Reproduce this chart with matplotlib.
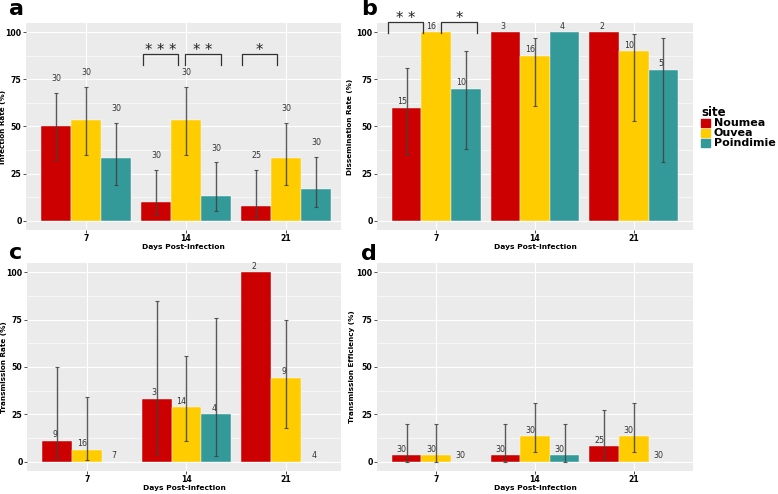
import matplotlib.pyplot as plt
import matplotlib.patches as mpatches
import numpy as np

# rate (%), 95% CI bounds, and n per site / day
days = ['7', '14', '21']
sites = ['Noumea', 'Ouvea', 'Poindimie']
colors = ['#CC0000', '#FFCC00', '#339999']
nan = np.nan

# a - infection rate
inf_rate = [[50, 10, 8], [53.3, 53.3, 33.3], [33.3, 13.3, 16.7]]
inf_lo = [[32, 3, 2], [35, 35, 19], [19, 5, 7]]
inf_hi = [[68, 27, 27], [71, 71, 52], [52, 31, 34]]
inf_n = [[30, 30, 25], [30, 30, 30], [30, 30, 30]]

# b - dissemination rate
dis_rate = [[60, 100, 100], [100, 87.5, 90], [70, 100, 80]]
dis_lo = [[35, nan, nan], [nan, 61, 53], [38, nan, 31]]
dis_hi = [[81, nan, nan], [nan, 97, 99], [90, nan, 97]]
dis_n = [[15, 3, 2], [16, 16, 10], [10, 4, 5]]

# c - transmission rate
tr_rate = [[11.1, 33.3, 100], [6.25, 28.6, 44.4], [0, 25, 0]]
tr_lo = [[2, 4, nan], [1, 11, 18], [nan, 3, nan]]
tr_hi = [[50, 85, nan], [34, 56, 75], [nan, 76, nan]]
tr_n = [[9, 3, 2], [16, 14, 9], [7, 4, 4]]

# d - transmission efficiency
te_rate = [[3.3, 3.3, 8], [3.3, 13.3, 13.3], [0, 3.3, 0]]
te_lo = [[0, 0, 2], [0, 5, 5], [nan, 0, nan]]
te_hi = [[20, 20, 27], [20, 31, 31], [nan, 20, nan]]
te_n = [[30, 30, 25], [30, 30, 30], [30, 30, 30]]

# significance brackets: (x start, x end, y, stars)
sig_a = [(1.567, 1.917, 88.5, '* * *'), (1.993, 2.35, 88.5, '* *'), (2.557, 2.907, 88.5, '*')]
sig_b = [(0.514, 0.869, 105.3, '* *'), (1.048, 1.413, 105.3, '*')]

W, H = 778, 494
fig = plt.figure(figsize=(W / 100, H / 100), dpi=100)


def px_axes(x0, y0, x1, y1):
    return fig.add_axes([x0 / W, 1 - y1 / H, (x1 - x0) / W, (y1 - y0) / H])


def panel(ax, rate, lo, hi, n, ylabel, xmax, label_mode, ylab_x):
    x = np.arange(1, len(days) + 1)
    bw = 0.3
    ax.set_facecolor('#EBEBEB')
    ax.set_axisbelow(True)
    for s in range(len(sites)):
        pos = x + (s - 1) * bw
        r = np.array(rate[s], dtype=float)
        l = np.array(lo[s], dtype=float)
        h = np.array(hi[s], dtype=float)
        ax.bar(pos, r, width=bw, color=colors[s], edgecolor='white', linewidth=0.3, zorder=2)
        ax.errorbar(pos, r, yerr=[r - l, h - r], fmt='none', ecolor='#404040',
                    elinewidth=1.0, capsize=1.4, capthick=0.8, alpha=0.85, zorder=3)
        for j in range(len(days)):
            if label_mode == 'above_err':
                top = h[j] if not np.isnan(h[j]) else r[j]
                ax.text(pos[j], top + 7.5, str(n[s][j]), ha='center', va='center',
                        fontsize=5.7, color='#333333', zorder=4)
            else:
                ax.text(pos[j], r[j] + 3.3, str(n[s][j]), ha='right', va='center',
                        fontsize=5.7, color='#333333', zorder=4)
    ax.set_xlim(0.4, xmax)
    ax.set_ylim(-5, 105)
    ax.set_xticks(x, labels=days)
    ax.set_yticks([0, 25, 50, 75, 100])
    ax.set_yticks([12.5, 37.5, 62.5, 87.5], minor=True)
    ax.grid(True, which='major', color='white', linewidth=0.8)
    ax.grid(True, which='minor', axis='y', color='white', linewidth=0.4)
    for sp in ax.spines.values():
        sp.set_visible(False)
    ax.tick_params(which='major', length=2, width=0.6, color='#333333', labelsize=5.6, pad=1.2)
    ax.tick_params(which='minor', length=0)
    for t in ax.get_xticklabels() + ax.get_yticklabels():
        t.set_fontweight('bold')
    ax.set_xlabel('Days Post-Infection', fontsize=5.4, fontweight='bold', labelpad=0.3)
    ax.set_ylabel(ylabel, fontsize=5.2, fontweight='bold')
    ax.yaxis.set_label_coords(ylab_x, 0.5)


def brackets(ax, sigs):
    for x0, x1, y, stars in sigs:
        ax.plot([x0, x0, x1, x1], [y - 5.6, y, y, y - 5.6], color='#333333',
                linewidth=0.9, clip_on=False, zorder=5)
        ax.text((x0 + x1) / 2, y + 2.0, stars, ha='center', va='center',
                fontsize=10.5, color='#222222', clip_on=False, zorder=5)


ax_a = px_axes(26, 23, 341, 230)
ax_b = px_axes(377, 23, 693, 230)
ax_c = px_axes(27, 263, 341, 471)
ax_d = px_axes(377, 263, 693, 471)

panel(ax_a, inf_rate, inf_lo, inf_hi, inf_n, 'Infection Rate (%)', 3.55, 'above_err', -0.0625)
panel(ax_b, dis_rate, dis_lo, dis_hi, dis_n, 'Dissemination Rate (%)', 3.6, 'bar', -0.076)
panel(ax_c, tr_rate, tr_lo, tr_hi, tr_n, 'Transmission Rate (%)', 3.55, 'bar', -0.0646)
panel(ax_d, te_rate, te_lo, te_hi, te_n, 'Transmission Efficiency (%)', 3.6, 'bar', -0.0696)

brackets(ax_a, sig_a)
brackets(ax_b, sig_b)

for lbl, (px, py) in zip('abcd', [(9, 15), (361, 15), (9, 259), (361, 260)]):
    fig.text(px / W, 1 - py / H, lbl, fontsize=16, fontweight='bold', va='baseline')

# legend, drawn by hand to match the tight ggplot key spacing
fig.text(701 / W, 1 - 112 / H, 'site', fontsize=8.5, fontweight='bold', va='center')
for i, (site, col) in enumerate(zip(sites, colors)):
    yc = 123 + i * 9.8
    fig.patches.append(mpatches.Rectangle((701 / W, 1 - (yc + 4) / H), 9 / W, 8 / H,
                                          transform=fig.transFigure, color=col))
    fig.text(714 / W, 1 - yc / H, site, fontsize=8, fontweight='bold', va='center')

fig.savefig('out.png', dpi=100)
